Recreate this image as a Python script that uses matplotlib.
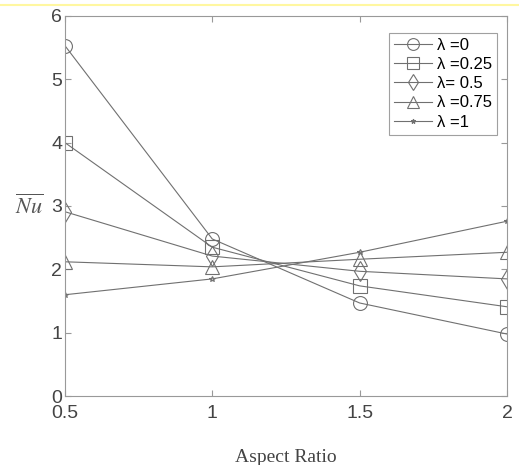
import matplotlib.pyplot as plt

plt.rcParams['mathtext.fontset'] = 'stix'

# Aspect ratio vs average Nusselt number
aspect_ratio = [0.5, 1.0, 1.5, 2.0]
nu_l0 = [5.53, 2.48, 1.47, 0.98]
nu_l025 = [4.00, 2.35, 1.74, 1.41]
nu_l05 = [2.91, 2.21, 1.97, 1.85]
nu_l075 = [2.12, 2.04, 2.16, 2.27]
nu_l1 = [1.60, 1.85, 2.27, 2.76]

labels = ['λ =0', 'λ =0.25', 'λ= 0.5', 'λ =0.75', 'λ =1']
markers = ['o', 's', 'd', '^', '*']
series = [nu_l0, nu_l025, nu_l05, nu_l075, nu_l1]

fig = plt.figure(figsize=(5.19, 4.65), dpi=100)
ax = fig.add_axes([0.125, 0.148, 0.852, 0.818])

line_col = '#707070'
for vals, lab, mk in zip(series, labels, markers):
    ms = 4 if mk == '*' else 10
    ax.plot(aspect_ratio, vals, color=line_col, lw=0.8, marker=mk, ms=ms,
            mfc='none', mec=line_col, mew=0.8, label=lab)

ax.set_xlim(0.5, 2)
ax.set_ylim(0, 6)
ax.set_xticks([0.5, 1, 1.5, 2])
ax.set_xticklabels(['0.5', '1', '1.5', '2'])
ax.set_yticks(range(0, 7))
ax.tick_params(direction='in', length=4, color='#999999', labelsize=14,
               top=True, right=True)
ax.tick_params(axis='x', pad=6)
ax.tick_params(axis='y', pad=2)
for lbl in ax.get_xticklabels() + ax.get_yticklabels():
    lbl.set_family('Liberation Sans')
    lbl.set_color('#444444')
for sp in ax.spines.values():
    sp.set_color('#999999')
    sp.set_linewidth(0.8)

ax.set_xlabel('Aspect Ratio', family='Liberation Serif', fontsize=14,
              color='#444444', labelpad=20)
ax.set_ylabel(r'$\overline{Nu}$', rotation=0, fontsize=16, color='#555555',
              labelpad=16, va='center')

leg = ax.legend(loc='upper right', bbox_to_anchor=(0.978, 0.955),
                frameon=True, fancybox=False, handlelength=2.3,
                borderpad=0.3, labelspacing=0.25, handletextpad=0.3,
                borderaxespad=0.0, markerscale=0.85,
                prop={'family': 'Liberation Sans', 'size': 12})
leg.get_frame().set_edgecolor('#888888')
leg.get_frame().set_linewidth(0.8)

# faint yellow band along the top edge of the scan
fig.add_artist(plt.Line2D([0, 1], [0.99, 0.99], transform=fig.transFigure,
                          color='#fff7a0', lw=1.5))

fig.savefig('out.png', dpi=100)
